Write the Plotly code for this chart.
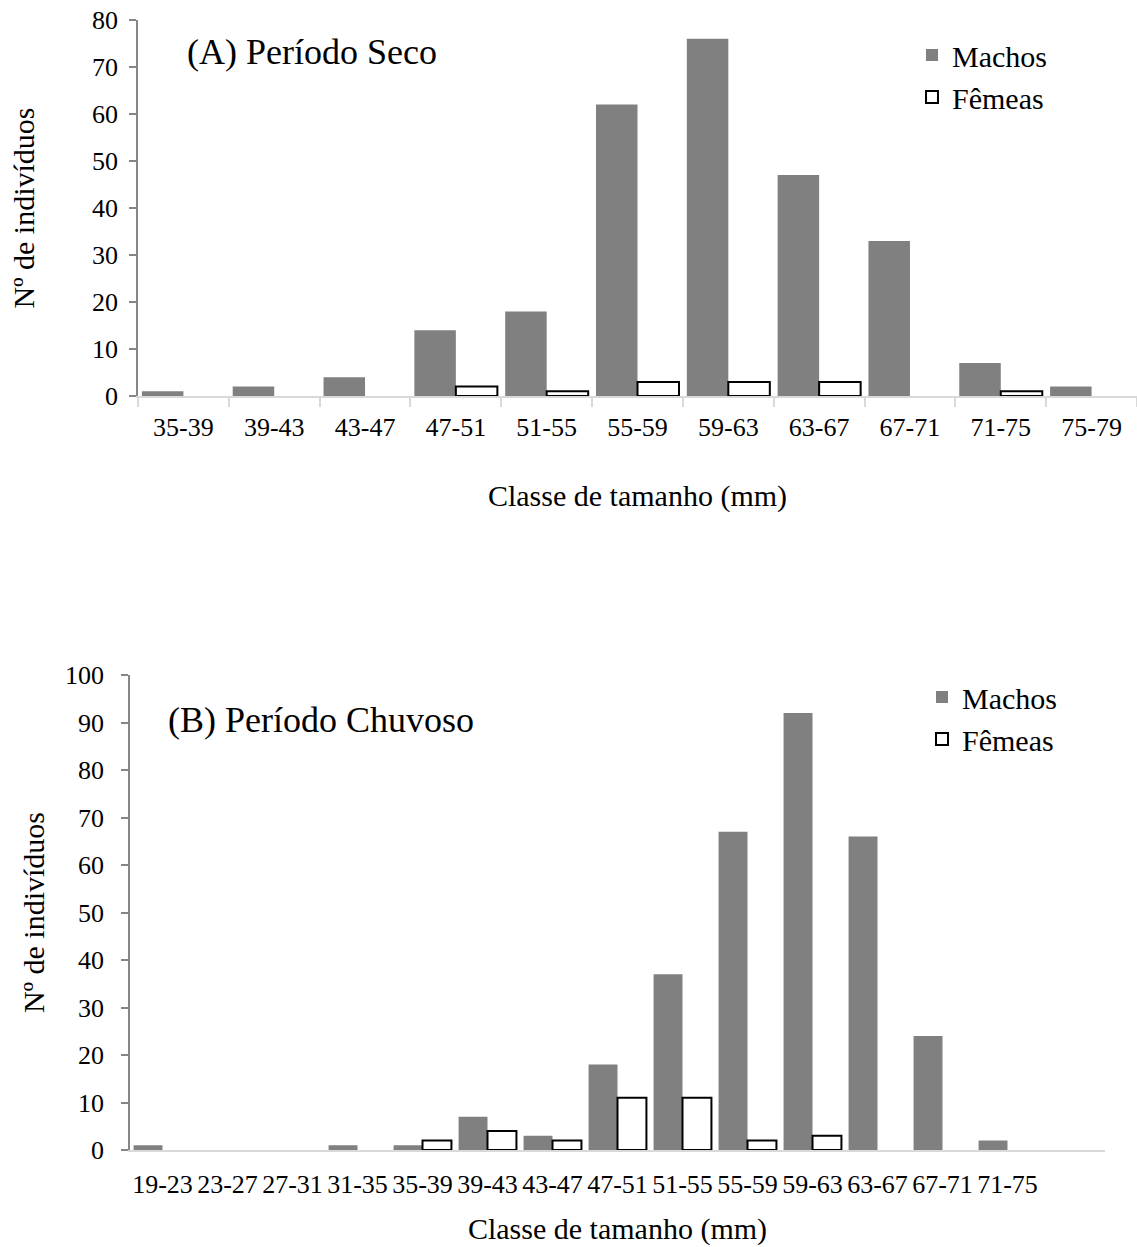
import plotly.graph_objects as go

# ---- data ----
cats_seco = ["35-39", "39-43", "43-47", "47-51", "51-55", "55-59", "59-63",
             "63-67", "67-71", "71-75", "75-79"]
machos_seco = [1, 2, 4, 14, 18, 62, 76, 47, 33, 7, 2]
femeas_seco = [0, 0, 0, 2, 1, 3, 3, 3, 0, 1, 0]

cats_chuv = ["19-23", "23-27", "27-31", "31-35", "35-39", "39-43", "43-47",
             "47-51", "51-55", "55-59", "59-63", "63-67", "67-71", "71-75"]
machos_chuv = [1, 0, 0, 1, 1, 7, 3, 18, 37, 67, 92, 66, 24, 2]
femeas_chuv = [0, 0, 0, 0, 2, 4, 2, 11, 11, 2, 3, 0, 0, 0]

yticks_seco = [0, 10, 20, 30, 40, 50, 60, 70, 80]
yticks_chuv = [0, 10, 20, 30, 40, 50, 60, 70, 80, 90, 100]

FONT = "Liberation Serif, Times New Roman, serif"
W, H = 1137, 1247
GRAY = "#808080"

def nz(vals):
    return [v if v != 0 else None for v in vals]

fig = go.Figure()

w1 = 0.457
fig.add_trace(go.Bar(x=cats_seco, y=machos_seco, name="Machos",
                     marker=dict(color=GRAY, line=dict(width=0)),
                     width=w1, offset=-w1, xaxis="x", yaxis="y", legend="legend"))
fig.add_trace(go.Bar(x=cats_seco, y=nz(femeas_seco), name="Fêmeas",
                     marker=dict(color="white", line=dict(color="black", width=2)),
                     width=w1, offset=0, xaxis="x", yaxis="y", legend="legend"))

w2 = 0.445
fig.add_trace(go.Bar(x=cats_chuv, y=machos_chuv, name="Machos",
                     marker=dict(color=GRAY, line=dict(width=0)),
                     width=w2, offset=-w2, xaxis="x2", yaxis="y2", legend="legend2"))
fig.add_trace(go.Bar(x=cats_chuv, y=nz(femeas_chuv), name="Fêmeas",
                     marker=dict(color="white", line=dict(color="black", width=2)),
                     width=w2, offset=0, xaxis="x2", yaxis="y2", legend="legend2"))

tickfont = dict(family=FONT, size=26, color="black")
titlefont = dict(family=FONT, size=30, color="black")

fig.update_layout(
    width=W, height=H,
    margin=dict(l=0, r=0, t=0, b=0, autoexpand=False),
    paper_bgcolor="white", plot_bgcolor="white",
    barmode="overlay",
    font=dict(family=FONT, color="black"),
    xaxis=dict(domain=[138 / W, 1.0], anchor="y", type="category",
               range=[-0.5, 10.5], automargin=False,
               showline=True, linecolor="#d9d9d9", linewidth=2,
               ticks="outside", tickson="boundaries", ticklen=9,
               tickcolor="#d9d9d9", tickwidth=2, ticklabelstandoff=7,
               tickfont=tickfont, showgrid=False, zeroline=False,
               title=dict(text="Classe de tamanho (mm)", font=titlefont, standoff=44)),
    yaxis=dict(domain=[1 - 396 / H, 1 - 20 / H], anchor="x",
               range=[0, 80], tickvals=yticks_seco, automargin=False,
               showline=True, linecolor="#868686", linewidth=1.5,
               ticks="outside", ticklen=7, tickcolor="#868686", tickwidth=1.5,
               ticklabelstandoff=6,
               tickfont=tickfont, showgrid=False, zeroline=False,
               title=dict(text="Nº de indivíduos", font=titlefont, standoff=49)),
    xaxis2=dict(domain=[130 / W, 1105 / W], anchor="y2", type="category",
                range=[-0.5, 14.5], automargin=False,
                showline=True, linecolor="#d9d9d9", linewidth=2,
                ticks="", ticklabelstandoff=10,
                tickfont=tickfont, showgrid=False, zeroline=False,
                title=dict(text="Classe de tamanho (mm)", font=titlefont, standoff=20)),
    yaxis2=dict(domain=[1 - 1150 / H, 1 - 675 / H], anchor="x2",
                range=[0, 100], tickvals=yticks_chuv, automargin=False,
                showline=True, linecolor="#868686", linewidth=1.5,
                ticks="outside", ticklen=7, tickcolor="#868686", tickwidth=1.5,
                ticklabelstandoff=12,
                tickfont=tickfont, showgrid=False, zeroline=False,
                title=dict(text="Nº de indivíduos", font=titlefont, standoff=12)),
    legend=dict(x=912 / W, y=1 - 29 / H, xanchor="left", yanchor="top",
                font=dict(family=FONT, size=30, color="black"),
                bgcolor="rgba(0,0,0,0)", tracegroupgap=0),
    legend2=dict(x=922 / W, y=1 - 671 / H, xanchor="left", yanchor="top",
                 font=dict(family=FONT, size=30, color="black"),
                 bgcolor="rgba(0,0,0,0)", tracegroupgap=0),
    showlegend=True,
    annotations=[
        dict(text="(A) Período Seco", x=185 / W, y=1 - 52 / H, xref="paper", yref="paper",
             xanchor="left", yanchor="middle", showarrow=False,
             font=dict(family=FONT, size=36, color="black")),
        dict(text="(B) Período Chuvoso", x=166 / W, y=1 - 720 / H, xref="paper", yref="paper",
             xanchor="left", yanchor="middle", showarrow=False,
             font=dict(family=FONT, size=36, color="black")),
    ],
)

fig.write_html("out.html")
